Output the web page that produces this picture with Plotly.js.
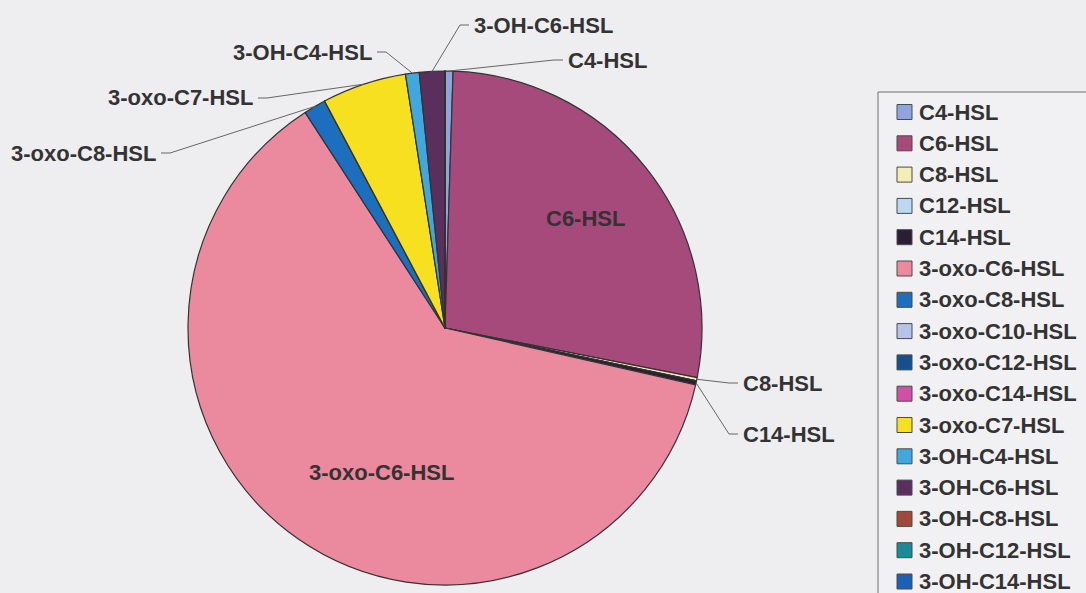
<!DOCTYPE html>
<html>
<head>
<meta charset="utf-8">
<script src="https://cdn.plot.ly/plotly-3.0.1.min.js"></script>
<style>html,body{margin:0;padding:0;background:#eeeef0;}#chart{width:1086px;height:593px;}</style>
</head>
<body>
<div id="chart"></div>
<script>
// ---- data ----
var categories = ["C4-HSL","C6-HSL","C8-HSL","C12-HSL","C14-HSL","3-oxo-C6-HSL","3-oxo-C8-HSL","3-oxo-C10-HSL","3-oxo-C12-HSL","3-oxo-C14-HSL","3-oxo-C7-HSL","3-OH-C4-HSL","3-OH-C6-HSL","3-OH-C8-HSL","3-OH-C12-HSL","3-OH-C14-HSL"];
var values = [0.5, 27.6, 0.2, 0, 0.25, 62.3, 1.4, 0, 0, 0, 5.3, 0.86, 1.6, 0, 0, 0];
var colors = ["#8ea6de","#a64a7c","#f4eeb6","#bcd9f3","#2b1d33","#eb8a9e","#1c6fbf","#b7c3e8","#164f8e","#d24fa6","#f6e01f","#3fa9df","#5a2f5e","#a0493a","#1b8a98","#1b5fb7"];

// ---- layout / styling (not data) ----
var W = 1086, H = 593;
var cx = 445, cy = 328, R = 257;
var textColor = "#333333";
var fontFam = "Liberation Sans, Arial, sans-serif";
var fontSize = 22;
// outside labels: anchor point (px) where text edge sits, side of text relative to anchor
var outsideLabels = {
  "3-OH-C6-HSL": {x: 472, y: 25, side: "right"},
  "C4-HSL": {x: 566, y: 60, side: "right"},
  "3-OH-C4-HSL": {x: 374, y: 52, side: "left"},
  "3-oxo-C7-HSL": {x: 255, y: 98, side: "left"},
  "3-oxo-C8-HSL": {x: 158, y: 153, side: "left"},
  "C8-HSL": {x: 741, y: 383, side: "right"},
  "C14-HSL": {x: 741, y: 434, side: "right"}
};
var insideLabels = {
  "C6-HSL": {x: 585, y: 219},
  "3-oxo-C6-HSL": {x: 381, y: 472}
};
var legendBox = {x0: 878, y0: 92, x1: 1095, y1: 610};
var legendRow0 = 112, legendStep = 31.3, swX = 897, swSize = 15, legTextX = 917;

function px(x){ return x / W; }
function py(y){ return 1 - y / H; }

var trace = {
  type: "pie",
  labels: categories,
  values: values,
  sort: false,
  direction: "clockwise",
  rotation: 0,
  textinfo: "none",
  hoverinfo: "label+percent",
  marker: {colors: colors, line: {color: "#333333", width: 1.2}},
  domain: {x: [px(cx - R), px(cx + R)], y: [py(cy + R), py(cy - R)]},
  showlegend: false
};

var shapes = [], annotations = [];
var total = values.reduce(function(a,b){return a+b;}, 0);
var cum = 0;
for (var i = 0; i < categories.length; i++) {
  var a0 = cum / total * 2 * Math.PI;
  cum += values[i];
  var a1 = cum / total * 2 * Math.PI;
  var mid = (a0 + a1) / 2;
  var lab = outsideLabels[categories[i]];
  if (lab) {
    var P = {x: cx + R * Math.sin(mid), y: cy - R * Math.cos(mid)};
    var dir = lab.side === "right" ? -1 : 1;
    var L = {x: lab.x + dir * 3, y: lab.y};
    var E = {x: L.x + dir * 9, y: lab.y};
    shapes.push({type: "path", xref: "paper", yref: "paper",
      path: "M " + px(P.x) + " " + py(P.y) + " L " + px(E.x) + " " + py(E.y) + " L " + px(L.x) + " " + py(L.y),
      line: {color: "#666666", width: 1}});
    annotations.push({xref: "paper", yref: "paper", x: px(lab.x), y: py(lab.y),
      xanchor: lab.side === "right" ? "left" : "right", yanchor: "middle",
      text: "<b>" + categories[i] + "</b>", showarrow: false,
      font: {family: fontFam, size: fontSize, color: textColor}});
  }
  var il = insideLabels[categories[i]];
  if (il) {
    annotations.push({xref: "paper", yref: "paper", x: px(il.x), y: py(il.y),
      xanchor: "center", yanchor: "middle",
      text: "<b>" + categories[i] + "</b>", showarrow: false,
      font: {family: fontFam, size: fontSize, color: textColor}});
  }
}

// legend box
shapes.push({type: "rect", xref: "paper", yref: "paper",
  x0: px(legendBox.x0), x1: px(legendBox.x1), y0: py(legendBox.y1), y1: py(legendBox.y0),
  fillcolor: "#f1f1f3", line: {color: "#6e6e6e", width: 1}, layer: "below"});
for (var j = 0; j < categories.length; j++) {
  var yc = legendRow0 + j * legendStep;
  shapes.push({type: "rect", xref: "paper", yref: "paper",
    x0: px(swX), x1: px(swX + swSize), y0: py(yc + swSize/2), y1: py(yc - swSize/2),
    fillcolor: colors[j], line: {color: "#4a4a4a", width: 1}});
  annotations.push({xref: "paper", yref: "paper", x: px(legTextX), y: py(yc),
    xanchor: "left", yanchor: "middle", text: "<b>" + categories[j] + "</b>", showarrow: false,
    font: {family: fontFam, size: fontSize, color: textColor}});
}

var layout = {
  width: W, height: H,
  margin: {l: 0, r: 0, t: 0, b: 0},
  paper_bgcolor: "#eeeef0",
  plot_bgcolor: "#eeeef0",
  showlegend: false,
  shapes: shapes,
  annotations: annotations
};

Plotly.newPlot("chart", [trace], layout, {displayModeBar: false, staticPlot: true});
</script>
</body>
</html>
